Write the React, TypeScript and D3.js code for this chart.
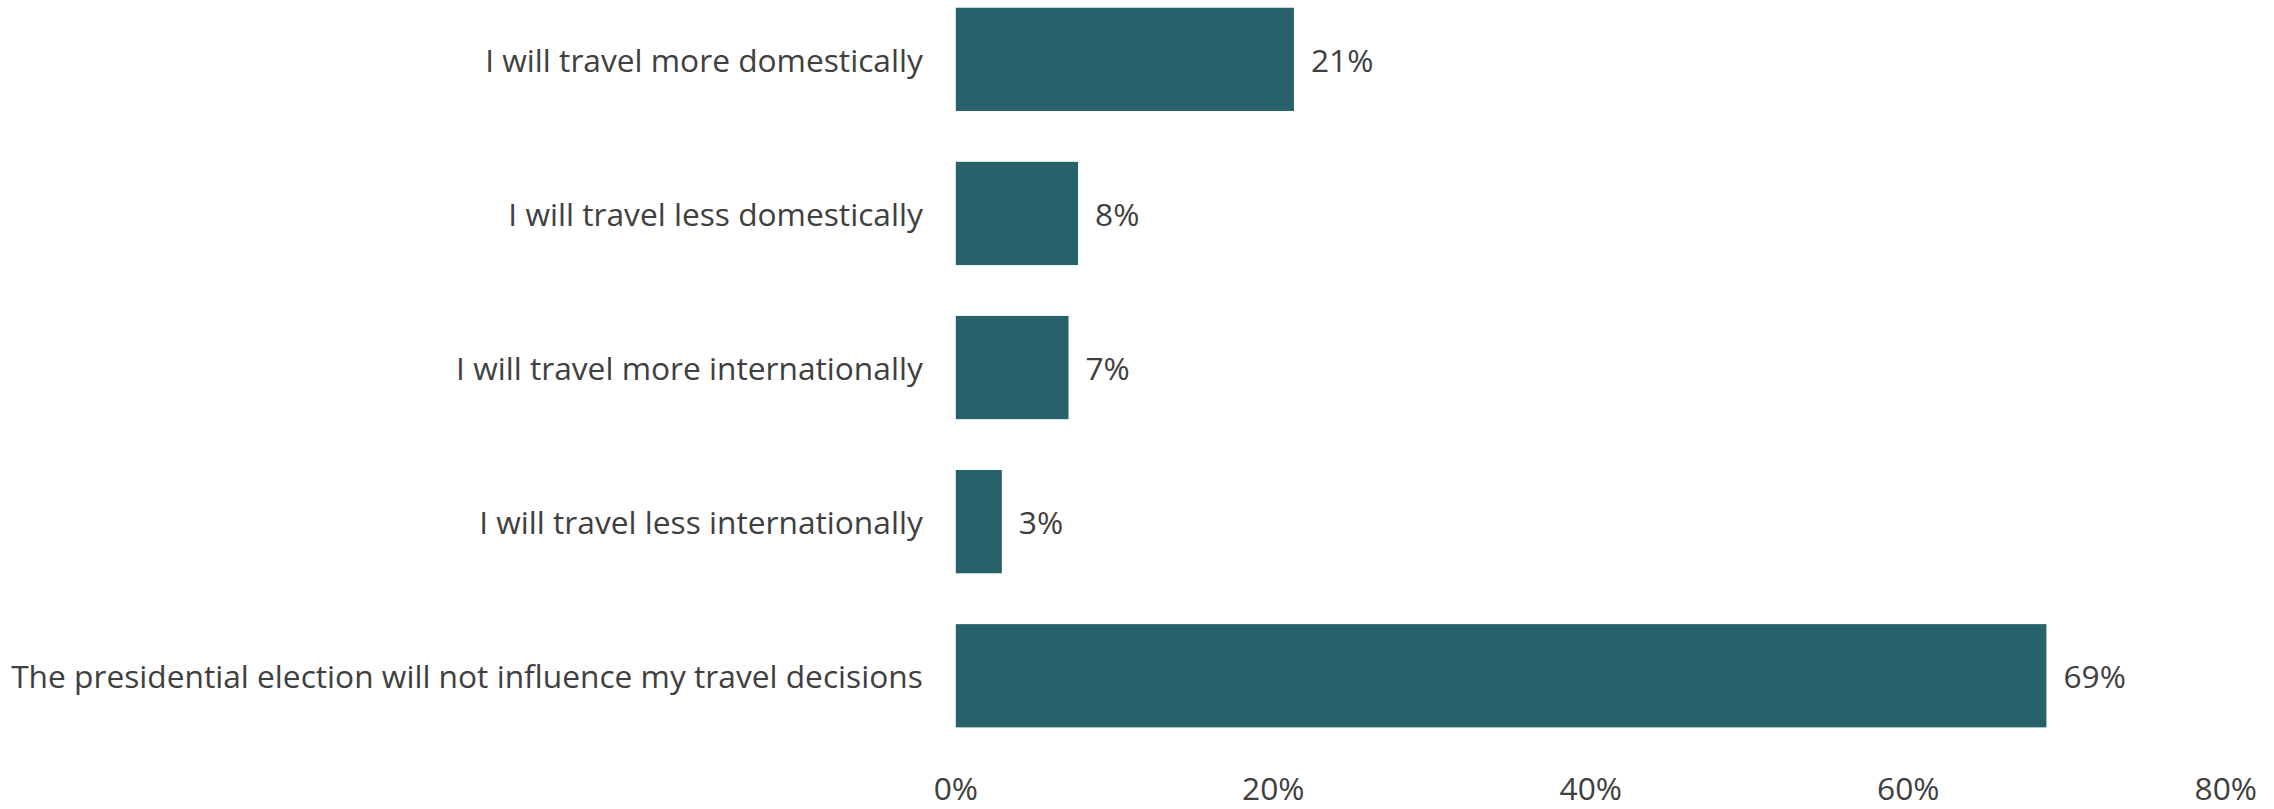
import React from "react";
import * as d3 from "d3";

const categories = [
  "I will travel more domestically",
  "I will travel less domestically",
  "I will travel more internationally",
  "I will travel less internationally",
  "The presidential election will not influence my travel decisions",
];
const values = [21.3, 7.7, 7.1, 2.9, 68.7];
const valueLabels = ["21%", "8%", "7%", "3%", "69%"];
const ticks = [0, 20, 40, 60, 80];

const W = 2274;
const H = 809;
const FONT = "'Open Sans', sans-serif";
const TEXT = "#404040";
const BAR = "#27616A";

export default function App() {
  const x = d3.scaleLinear().domain([0, 80]).range([955.8, 2225.8]);
  const y = d3
    .scaleBand<string>()
    .domain(categories)
    .range([-17.7, 752.8])
    .paddingInner(0.33)
    .paddingOuter(0.165);
  const fs = 31.7;
  return (
    <svg
      width={W}
      height={H}
      style={{ position: "absolute", left: 0, top: 0, display: "block", background: "#fff" }}
      fontFamily={FONT}
    >
      {categories.map((c, i) => {
        const y0 = y(c)!;
        const bw = y.bandwidth();
        return (
          <g key={c}>
            <rect x={x(0)} y={y0} width={x(values[i]) - x(0)} height={bw} fill={BAR} />
            <text
              x={x(0) - 33}
              y={y0 + bw / 2}
              textAnchor="end"
              dominantBaseline="central"
              fontSize={fs}
              fill={TEXT}
            >
              {c}
            </text>
            <text
              x={x(values[i]) + 17}
              y={y0 + bw / 2}
              dominantBaseline="central"
              fontSize={fs}
              fill={TEXT}
            >
              {valueLabels[i]}
            </text>
          </g>
        );
      })}
      {ticks.map((t) => (
        <text key={t} x={x(t)} y={800} textAnchor="middle" fontSize={fs} fill={TEXT}>
          {t + "%"}
        </text>
      ))}
    </svg>
  );
}
